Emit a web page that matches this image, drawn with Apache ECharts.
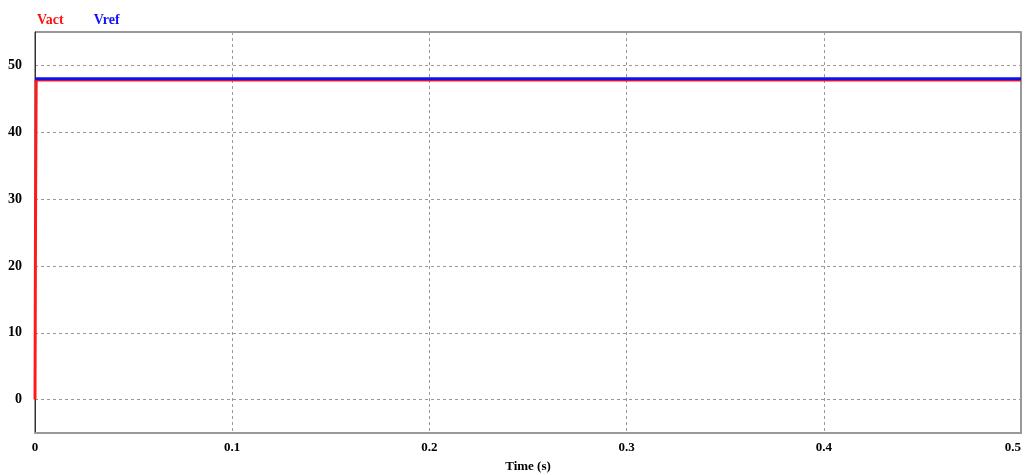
<!DOCTYPE html>
<html>
<head>
<meta charset="utf-8">
<script src="https://cdn.jsdelivr.net/npm/echarts@6/dist/echarts.min.js"></script>
<style>
  html, body { margin: 0; padding: 0; background: #fff; }
  #main { width: 1025px; height: 475px; }
</style>
</head>
<body>
<div id="main"></div>
<script>
// data
var seriesNames = ['Vact', 'Vref'];
var vactTime = [0, 0.0003, 0.0006, 0.5];
var vactValue = [0, 30, 47.8, 47.8];
var vrefTime = [0, 0.5];
var vrefValue = [48, 48];
var yTicks = [0, 10, 20, 30, 40, 50];
var xTicks = [0, 0.1, 0.2, 0.3, 0.4, 0.5];

var chart = echarts.init(document.getElementById('main'));
var serif = '"Liberation Serif", "Times New Roman", serif';

function pairs(xs, ys) {
  return xs.map(function (x, i) { return [x, ys[i]]; });
}

var option = {
  animation: false,
  backgroundColor: '#fff',
  legend: {
    left: 26, top: 8,
    itemWidth: 0, itemHeight: 0, itemGap: 24,
    data: [
      {name: 'Vact', textStyle: {color: '#ff1010'}},
      {name: 'Vref', textStyle: {color: '#1010ff'}}
    ],
    textStyle: {fontFamily: serif, fontWeight: 'bold', fontSize: 14, padding: 0}
  },
  grid: {
    left: 35, right: 4, top: 32, bottom: 42,
    outerBoundsMode: 'none', containLabel: false,
    show: true, borderColor: '#333', borderWidth: 1
  },
  xAxis: {
    type: 'value', min: 0, max: 0.5,
    name: 'Time (s)', nameLocation: 'middle', nameGap: 27,
    nameTextStyle: {fontFamily: serif, fontWeight: 'bold', fontSize: 13, color: '#000'},
    axisLine: {show: true, onZero: false, lineStyle: {color: '#999', width: 2}},
    axisTick: {show: false, customValues: xTicks},
    axisLabel: {
      customValues: xTicks, margin: 8, alignMaxLabel: 'right',
      fontFamily: serif, fontWeight: 'bold', fontSize: 13, color: '#000',
      formatter: function (v) { return String(+v.toFixed(1)); }
    },
    splitLine: {show: true, lineStyle: {color: '#999', type: [3, 3], width: 1}}
  },
  yAxis: [{
    type: 'value', min: -5, max: 55,
    axisLine: {show: true, lineStyle: {color: '#333', width: 1}},
    axisTick: {show: false, customValues: yTicks},
    axisLabel: {
      customValues: yTicks, margin: 13,
      fontFamily: serif, fontWeight: 'bold', fontSize: 14, color: '#000'
    },
    splitLine: {show: true, lineStyle: {color: '#999', type: [3, 3], width: 1}}
  }, {
    type: 'value', min: -5, max: 55, position: 'right',
    axisLine: {show: true, lineStyle: {color: '#999', width: 2}},
    axisTick: {show: false}, axisLabel: {show: false}, splitLine: {show: false}
  }],
  series: [{
    name: seriesNames[0], type: 'line', symbol: 'none',
    data: pairs(vactTime, vactValue),
    lineStyle: {color: '#ff1a1a', width: 3},
    itemStyle: {color: '#ff1010'}
  }, {
    name: seriesNames[1], type: 'line', symbol: 'none',
    data: pairs(vrefTime, vrefValue),
    lineStyle: {color: '#1010ee', width: 3},
    itemStyle: {color: '#1010ff'},
    z: 3
  }]
};

chart.setOption(option);
</script>
</body>
</html>
